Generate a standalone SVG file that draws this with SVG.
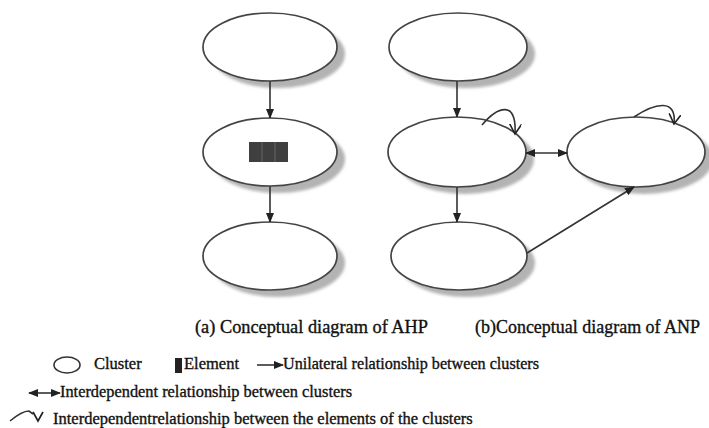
<svg xmlns="http://www.w3.org/2000/svg" width="709" height="428" viewBox="0 0 709 428">
<style>
.shadow{fill:#b3b3b3;filter:url(#blur)}
.cl{fill:#fff;stroke:#444;stroke-width:1.7}
.ln{fill:none;stroke:#333;stroke-width:1.6}
.txt{font-family:"Liberation Serif","Times New Roman",serif;fill:#111;stroke:#111;stroke-width:0.35}
.cap{font-size:18px}
.leg{font-size:16.5px}
</style>
<defs>
<filter id="blur" x="-20%" y="-20%" width="140%" height="140%"><feGaussianBlur stdDeviation="1.5"/></filter>
<marker id="ah" markerUnits="userSpaceOnUse" markerWidth="10" markerHeight="8" refX="9" refY="4" orient="auto-start-reverse"><path d="M0,0 L10,4 L0,8 z" fill="#222"/></marker>
<marker id="vh" markerUnits="userSpaceOnUse" markerWidth="14" markerHeight="14" refX="10" refY="6" orient="auto"><path d="M0,0 L10,6 L0,12" fill="none" stroke="#222" stroke-width="1.6"/></marker>
</defs>
<g id="ahp-top"><ellipse class="shadow" cx="278" cy="54" rx="67" ry="34"/><ellipse class="cl" cx="270" cy="47" rx="67" ry="34"/></g>
<g id="ahp-mid"><ellipse class="shadow" cx="278" cy="159" rx="67" ry="34"/><ellipse class="cl" cx="270" cy="152" rx="67" ry="34"/>
<rect x="249" y="142" width="39" height="20" fill="#3f3f3f"/><line x1="262" y1="142" x2="262" y2="162" stroke="#666" stroke-width="1"/><line x1="275" y1="142" x2="275" y2="162" stroke="#666" stroke-width="1"/></g>
<g id="ahp-bot"><ellipse class="shadow" cx="278" cy="263" rx="67" ry="34"/><ellipse class="cl" cx="270" cy="256" rx="67" ry="34"/></g>
<g id="anp-top"><ellipse class="shadow" cx="466" cy="54" rx="69" ry="34"/><ellipse class="cl" cx="458" cy="47" rx="69" ry="34"/></g>
<g id="anp-mid"><ellipse class="shadow" cx="465" cy="159" rx="69" ry="35"/><ellipse class="cl" cx="457" cy="152" rx="69" ry="35"/></g>
<g id="anp-bot"><ellipse class="shadow" cx="467" cy="263" rx="68" ry="34"/><ellipse class="cl" cx="459" cy="256" rx="68" ry="34"/></g>
<g id="anp-right"><ellipse class="shadow" cx="644" cy="159" rx="69" ry="35"/><ellipse class="cl" cx="636" cy="152" rx="69" ry="35"/></g>
<g id="connectors">
<line class="ln" x1="270" y1="81" x2="270" y2="118" marker-end="url(#ah)"/>
<line class="ln" x1="270" y1="186" x2="270" y2="222" marker-end="url(#ah)"/>
<line class="ln" x1="457" y1="81" x2="457" y2="117" marker-end="url(#ah)"/>
<line class="ln" x1="457" y1="187" x2="457" y2="222" marker-end="url(#ah)"/>
<line class="ln" x1="526" y1="153" x2="567" y2="153" marker-start="url(#ah)" marker-end="url(#ah)"/>
<line class="ln" x1="527" y1="253" x2="634" y2="187" marker-end="url(#ah)"/>
<path class="ln" d="M482,125 C498,106 517,100 515,134" marker-end="url(#vh)"/>
<path class="ln" d="M634,117 C655,103 677,98 674,124" marker-end="url(#vh)"/>
</g>
<text class="txt cap" x="195" y="333" textLength="233" lengthAdjust="spacingAndGlyphs">(a) Conceptual diagram of AHP</text>
<text class="txt cap" x="475" y="333" textLength="225" lengthAdjust="spacingAndGlyphs">(b)Conceptual diagram of ANP</text>
<g id="legend">
<ellipse cx="67" cy="365" rx="13" ry="8" fill="#fff" stroke="#333" stroke-width="1.6"/>
<text class="txt leg" x="94" y="369">Cluster</text>
<rect x="175" y="358" width="7" height="15" fill="#222"/>
<text class="txt leg" x="184" y="369">Element</text>
<line class="ln" x1="257" y1="365" x2="283" y2="365" marker-end="url(#ah)"/>
<text class="txt leg" x="283" y="369" textLength="256" lengthAdjust="spacingAndGlyphs">Unilateral relationship between clusters</text>
<line class="ln" x1="29" y1="393" x2="60" y2="393" marker-start="url(#ah)" marker-end="url(#ah)"/>
<text class="txt leg" x="60" y="397" textLength="292" lengthAdjust="spacingAndGlyphs">Interdependent relationship between clusters</text>
<path class="ln" d="M10,421 Q22,411 29,411 L33,414"/>
<path d="M33,412 L38,421 L43,412" fill="none" stroke="#222" stroke-width="1.7"/>
<text class="txt leg" x="53" y="424">Interdependentrelationship between the elements of the clusters</text>
</g>
</svg>
